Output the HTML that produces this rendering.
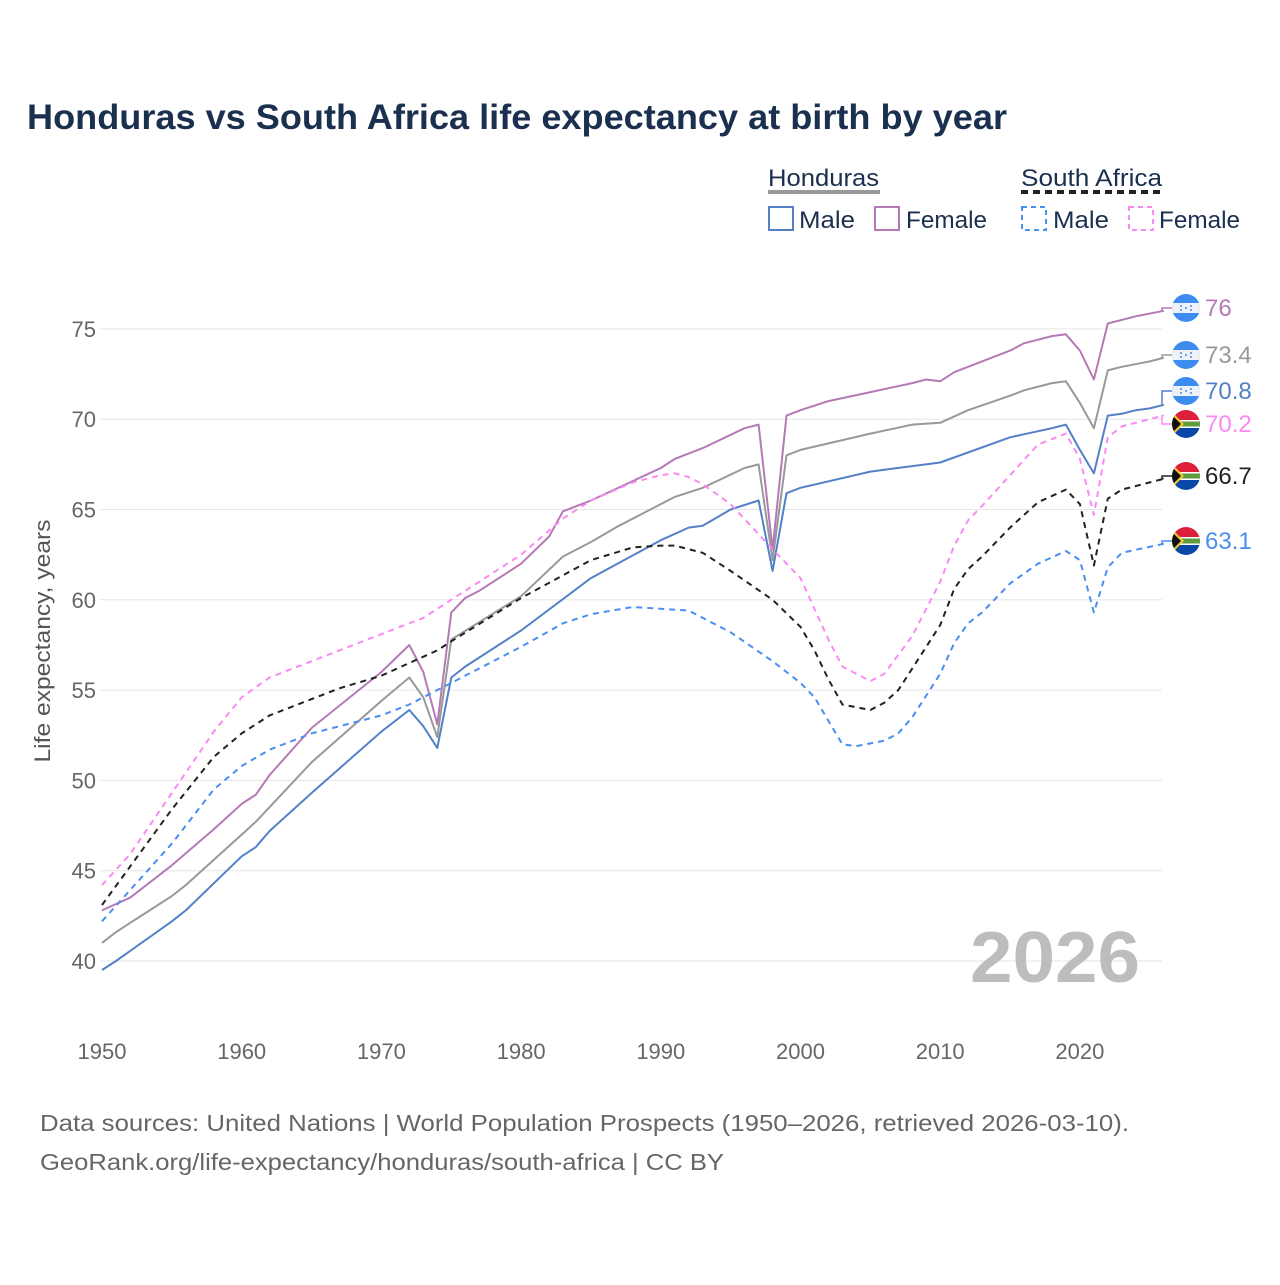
<!DOCTYPE html>
<html><head><meta charset="utf-8">
<style>
body{margin:0;background:#fff;font-family:"Liberation Sans",sans-serif;}
svg text{font-family:"Liberation Sans",sans-serif;}
</style></head>
<body>
<svg width="1280" height="1280" viewBox="0 0 1280 1280" xmlns="http://www.w3.org/2000/svg">
<rect width="1280" height="1280" fill="#fff"/>
<text x="27" y="129" font-size="35" font-weight="bold" fill="#1b2f4f" textLength="980" lengthAdjust="spacingAndGlyphs">Honduras vs South Africa life expectancy at birth by year</text>
<g>
 <text x="768" y="186" font-size="24" fill="#1b2f4f" textLength="111" lengthAdjust="spacingAndGlyphs">Honduras</text>
 <line x1="768" y1="192" x2="880" y2="192" stroke="#999" stroke-width="4"/>
 <text x="1021" y="186" font-size="24" fill="#1b2f4f" textLength="141" lengthAdjust="spacingAndGlyphs">South Africa</text>
 <line x1="1021" y1="192" x2="1162" y2="192" stroke="#222" stroke-width="4" stroke-dasharray="7,5"/>
 <g><rect x="769" y="207" width="24" height="23" fill="none" stroke="#5480c8" stroke-width="2"/><text x="799" y="228" font-size="24" fill="#1b2f4f" textLength="56" lengthAdjust="spacingAndGlyphs">Male</text></g>
 <g><rect x="875" y="207" width="24" height="23" fill="none" stroke="#b57ab5" stroke-width="2"/><text x="906" y="228" font-size="24" fill="#1b2f4f" textLength="81" lengthAdjust="spacingAndGlyphs">Female</text></g>
 <g><rect x="1022" y="207" width="24" height="23" fill="none" stroke="#4a8ef2" stroke-width="2" stroke-dasharray="5,4"/><text x="1053" y="228" font-size="24" fill="#1b2f4f" textLength="56" lengthAdjust="spacingAndGlyphs">Male</text></g>
 <g><rect x="1129" y="207" width="24" height="23" fill="none" stroke="#f98af5" stroke-width="2" stroke-dasharray="5,4"/><text x="1159" y="228" font-size="24" fill="#1b2f4f" textLength="81" lengthAdjust="spacingAndGlyphs">Female</text></g>
</g>
<g id="grid"></g>
<g id="axes"></g>
<g id="series"></g>
<g id="labels"></g>
<text x="1140" y="982" font-size="72" font-weight="bold" fill="#bdbdbd" text-anchor="end" textLength="170" lengthAdjust="spacingAndGlyphs">2026</text>
<text x="50" y="641" font-size="22" fill="#555" text-anchor="middle" textLength="243" lengthAdjust="spacingAndGlyphs" transform="rotate(-90 50 641)">Life expectancy, years</text>
<text x="40" y="1131" font-size="23" fill="#666" textLength="1089" lengthAdjust="spacingAndGlyphs">Data sources: United Nations | World Population Prospects (1950–2026, retrieved 2026-03-10).</text>
<text x="40" y="1170" font-size="23" fill="#666" textLength="684" lengthAdjust="spacingAndGlyphs">GeoRank.org/life-expectancy/honduras/south-africa | CC BY</text>
<script>
const xTicks=[1950,1960,1970,1980,1990,2000,2010,2020];
const yTicks=[40,45,50,55,60,65,70,75];
const hnMaleYears=[1950,1951,1955,1956,1960,1961,1962,1965,1970,1972,1973,1974,1975,1976,1980,1985,1990,1992,1993,1995,1997,1998,1999,2000,2005,2010,2015,2018,2019,2020,2021,2022,2023,2024,2025,2026];
const hnMaleVals=[39.5,40.0,42.2,42.8,45.8,46.3,47.2,49.3,52.7,53.9,53.0,51.8,55.7,56.3,58.3,61.2,63.3,64.0,64.1,65.0,65.5,61.6,65.9,66.2,67.1,67.6,69.0,69.5,69.7,68.3,67.0,70.2,70.3,70.5,70.6,70.8];
const hnFemaleYears=[1950,1952,1955,1958,1960,1961,1962,1965,1970,1972,1973,1974,1975,1976,1977,1980,1982,1983,1985,1990,1991,1993,1996,1997,1998,1999,2000,2002,2005,2008,2009,2010,2011,2015,2016,2018,2019,2020,2021,2022,2024,2026];
const hnFemaleVals=[42.8,43.5,45.3,47.3,48.7,49.2,50.3,52.9,56.0,57.5,56.0,53.1,59.3,60.1,60.5,62.0,63.5,64.9,65.5,67.3,67.8,68.4,69.5,69.7,62.8,70.2,70.5,71.0,71.5,72.0,72.2,72.1,72.6,73.8,74.2,74.6,74.7,73.8,72.2,75.3,75.7,76.0];
const hnTotalYears=[1950,1951,1955,1956,1960,1961,1965,1970,1972,1973,1974,1975,1980,1983,1985,1987,1990,1991,1993,1996,1997,1998,1999,2000,2005,2008,2010,2012,2015,2016,2018,2019,2020,2021,2022,2023,2025,2026];
const hnTotalVals=[41.0,41.6,43.6,44.2,47.0,47.7,51.0,54.4,55.7,54.6,52.4,57.8,60.2,62.4,63.2,64.1,65.3,65.7,66.2,67.3,67.5,62.2,68.0,68.3,69.2,69.7,69.8,70.5,71.3,71.6,72.0,72.1,70.9,69.5,72.7,72.9,73.2,73.4];
const zaFemaleYears=[1950,1952,1955,1958,1960,1962,1965,1970,1973,1975,1980,1983,1985,1988,1990,1991,1992,1993,1995,1998,2000,2002,2003,2005,2006,2008,2010,2011,2012,2013,2015,2017,2019,2020,2021,2022,2023,2026];
const zaFemaleVals=[44.2,45.9,49.3,52.7,54.6,55.7,56.6,58.1,59.0,60.0,62.5,64.5,65.5,66.5,66.9,67.0,66.8,66.4,65.3,62.8,61.2,57.8,56.3,55.5,55.9,58.0,61.0,63.0,64.4,65.2,66.9,68.6,69.2,67.8,64.7,69.0,69.6,70.2];
const zaTotalYears=[1950,1955,1958,1960,1962,1965,1967,1970,1972,1974,1975,1980,1985,1988,1990,1991,1993,1995,1998,2000,2001,2002,2003,2005,2006,2007,2008,2010,2011,2012,2013,2015,2017,2019,2020,2021,2022,2023,2026];
const zaTotalVals=[43.1,48.4,51.3,52.6,53.6,54.5,55.1,55.8,56.5,57.2,57.7,60.1,62.2,62.9,63.0,63.0,62.6,61.6,60.0,58.5,57.2,55.6,54.2,53.9,54.3,55.0,56.2,58.6,60.6,61.7,62.4,64.0,65.4,66.1,65.3,61.9,65.6,66.1,66.7];
const zaMaleYears=[1950,1955,1958,1960,1962,1965,1970,1972,1975,1980,1983,1985,1988,1990,1992,1995,1998,2000,2001,2002,2003,2004,2006,2007,2008,2010,2011,2012,2013,2015,2017,2019,2020,2021,2022,2023,2026];
const zaMaleVals=[42.2,46.5,49.5,50.8,51.7,52.6,53.6,54.2,55.4,57.4,58.7,59.2,59.6,59.5,59.4,58.2,56.6,55.4,54.6,53.3,52.0,51.9,52.2,52.6,53.5,55.9,57.6,58.7,59.3,60.9,62.0,62.7,62.2,59.3,61.8,62.6,63.1];

const NS="http://www.w3.org/2000/svg";
const X=yr=>102+(yr-1950)*13.97;
const Y=v=>961-(v-40)*18.06;
function mk(tag,attrs,parent){const e=document.createElementNS(NS,tag);for(const k in attrs)e.setAttribute(k,attrs[k]);parent.appendChild(e);return e;}
const grid=document.getElementById('grid'),axes=document.getElementById('axes'),ser=document.getElementById('series'),lab=document.getElementById('labels');
yTicks.forEach(v=>{
 const l=mk('line',{x1:100,x2:1162,y1:Y(v),y2:Y(v),stroke:'#e6e6e6','stroke-width':1},grid);
 
 
 const t=mk('text',{x:96,y:Y(v)+8,'font-size':22,fill:'#666','text-anchor':'end'},axes);
 t.textContent=v;
 
 
});
xTicks.forEach(v=>{
 const t=mk('text',{x:X(v),y:1059,'font-size':22,fill:'#666','text-anchor':'middle'},axes);
 t.textContent=v;
 
 
});
const series=[
 {name:'honduras-total',ys:hnTotalYears,vs:hnTotalVals,c:'#999',d:'',ly:355,flag:'hn',lc:'#999'},
 {name:'honduras-female',ys:hnFemaleYears,vs:hnFemaleVals,c:'#b57ab5',d:'',ly:308,flag:'hn',lc:'#b57ab5'},
 {name:'honduras-male',ys:hnMaleYears,vs:hnMaleVals,c:'#5480c8',d:'',ly:391,flag:'hn',lc:'#5480c8'},
 {name:'south-africa-female',ys:zaFemaleYears,vs:zaFemaleVals,c:'#f98af5',d:'6,5',ly:424,flag:'za',lc:'#f98af5'},
 {name:'south-africa-total',ys:zaTotalYears,vs:zaTotalVals,c:'#222',d:'6,5',ly:476,flag:'za',lc:'#222'},
 {name:'south-africa-male',ys:zaMaleYears,vs:zaMaleVals,c:'#4a8ef2',d:'6,5',ly:541,flag:'za',lc:'#4a8ef2'}
];
function flag(kind,cx,cy){
 const g=mk('g',{},lab);
 const id='c'+Math.round(cy);
 const cp=mk('clipPath',{id:id},g);mk('circle',{cx:cx,cy:cy,r:14},cp);
 const h=mk('g',{'clip-path':'url(#'+id+')'},g);
 if(kind==='hn'){
  mk('rect',{x:cx-14,y:cy-14,width:28,height:28,fill:'#3d8df0'},h);
  mk('rect',{x:cx-14,y:cy-5,width:28,height:10,fill:'#eef2f7'},h);
  [[-5,-2],[5,-2],[0,0],[-5,2],[5,2]].forEach(p=>mk('circle',{cx:cx+p[0],cy:cy+p[1],r:1,fill:'#3d8df0'},h));
 }else{
  mk('rect',{x:cx-14,y:cy-14,width:28,height:14,fill:'#de1f3a'},h);
  mk('rect',{x:cx-14,y:cy,width:28,height:14,fill:'#0b47a8'},h);
  mk('rect',{x:cx-14,y:cy-4,width:28,height:8,fill:'#fff'},h);
  mk('rect',{x:cx-14,y:cy-2.5,width:28,height:5,fill:'#5f9c3c'},h);
  mk('polygon',{points:(cx-14)+','+(cy-12)+' '+(cx-2)+','+cy+' '+(cx-14)+','+(cy+12),fill:'#f2c72f'},h);
  mk('polygon',{points:(cx-14)+','+(cy-9)+' '+(cx-5)+','+cy+' '+(cx-14)+','+(cy+9),fill:'#111'},h);
 }
 return g;
}
series.forEach(s=>{
 const pts=s.ys.map((yr,i)=>X(yr).toFixed(1)+','+Y(s.vs[i]).toFixed(1)).join(' ');
 const p=mk('polyline',{points:pts,fill:'none',stroke:s.c,'stroke-width':2,'stroke-dasharray':s.d,'stroke-linejoin':'round'},ser);
 
 
 const lx=X(s.ys[s.ys.length-1]),lv=s.vs[s.vs.length-1],ly=Y(lv);
 const c=mk('polyline',{points:lx+','+ly+' 1162,'+ly+' 1162,'+s.ly+' 1172,'+s.ly,fill:'none',stroke:s.c,'stroke-width':1.5},lab);
 
 
 const f=flag(s.flag,1186,s.ly);
 
 
 const t=mk('text',{x:1205,y:s.ly+8,'font-size':24,fill:s.lc},lab);
 t.textContent=String(lv).replace(/\.0$/,'');
 
 
});
</script>
</svg>
</body></html>
